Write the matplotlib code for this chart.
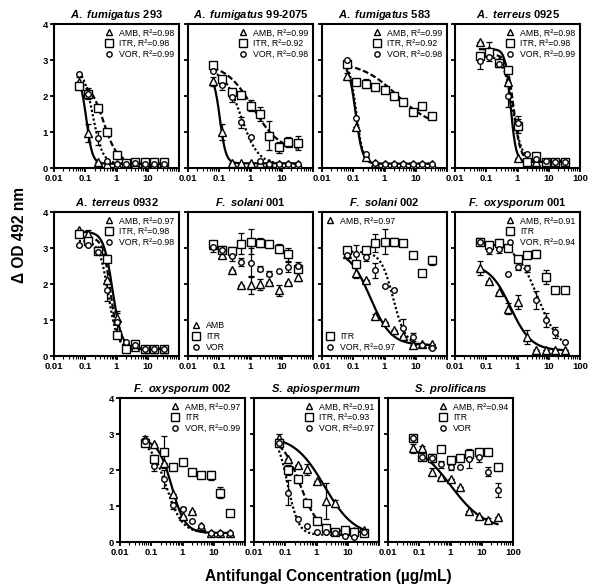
import numpy as np
import matplotlib
matplotlib.use("Agg")
import matplotlib.pyplot as plt
from matplotlib.lines import Line2D

plt.rcParams['font.family'] = ['Liberation Sans', 'DejaVu Sans']
plt.rcParams['mathtext.fontset'] = 'custom'
plt.rcParams['mathtext.it'] = 'Liberation Sans:italic:bold'
plt.rcParams['mathtext.rm'] = 'Liberation Sans:bold'
plt.rcParams['mathtext.bf'] = 'Liberation Sans:bold'

# ---------------- data ----------------
conc = [0.0625, 0.125, 0.25, 0.5, 1, 2, 4, 8, 16, 32]

species = ["A. fumigatus", "A. fumigatus", "A. fumigatus", "A. terreus",
           "A. terreus", "F. solani", "F. solani", "F. oxysporum",
           "F. oxysporum", "S. apiospermum", "S. prolificans"]
strains = ["293", "99-2075", "583", "0925", "0932", "001", "002", "001", "002", "", ""]

amb = [
    [2.40, 0.97, 0.17, 0.12, 0.12, 0.12, 0.12, 0.12, 0.12, 0.12],
    [2.41, 1.00, 0.14, 0.13, 0.13, 0.13, 0.13, 0.12, 0.12, 0.12],
    [2.56, 1.13, 0.30, 0.14, 0.12, 0.12, 0.12, 0.12, 0.12, 0.12],
    [3.49, 3.29, 2.96, 2.40, 0.28, 0.17, 0.17, 0.17, 0.17, 0.17],
    [3.50, 3.40, 2.95, 2.10, 1.05, 0.35, 0.25, 0.20, 0.20, 0.20],
    [3.09, 2.81, 2.40, 1.96, 1.96, 1.99, 2.05, 1.82, 2.05, 2.20],
    [2.84, 2.31, 2.12, 1.10, 0.94, 0.71, 0.55, 0.30, 0.32, 0.34],
    [2.44, 2.08, 1.77, 1.31, 1.50, 0.53, 0.16, 0.16, 0.16, 0.16],
    [2.85, 2.71, 2.20, 1.32, 0.72, 0.86, 0.44, 0.24, 0.24, 0.24],
    [2.88, 2.30, 2.13, 2.02, 1.69, 1.13, 1.07, 0.31, 0.31, 0.33],
    [2.60, 2.60, 1.95, 1.81, 1.75, 1.53, 0.86, 0.73, 0.62, 0.70],
]
amb_err = [
    [0.12, 0.25, 0, 0, 0, 0, 0, 0, 0, 0],
    [0.12, 0.22, 0, 0, 0, 0, 0, 0, 0, 0],
    [0.08, 0, 0, 0, 0, 0, 0, 0, 0, 0],
    [0, 0.2, 0, 0, 0, 0, 0, 0, 0, 0],
    [0, 0.1, 0, 0, 0.15, 0, 0, 0, 0, 0],
    [0.08, 0.1, 0, 0, 0.25, 0.15, 0, 0.15, 0, 0.12],
    [0, 0.15, 0, 0.08, 0, 0, 0, 0, 0, 0],
    [0.2, 0, 0, 0.15, 0.2, 0.2, 0, 0, 0, 0],
    [0.1, 0, 0, 0, 0, 0, 0, 0, 0, 0],
    [0.12, 0, 0, 0.15, 0, 0.5, 0.1, 0, 0, 0],
    [0.12, 0.08, 0.1, 0, 0, 0, 0, 0, 0.05, 0],
]
itr = [
    [2.27, 2.06, 1.67, 1.00, 0.35, 0.15, 0.17, 0.17, 0.16, 0.17],
    [2.87, 2.48, 2.10, 2.04, 1.73, 1.50, 0.90, 0.58, 0.72, 0.70],
    [2.89, 2.40, 2.34, 2.24, 2.18, 2.00, 1.83, 1.55, 1.71, 1.44],
    [3.10, 3.21, 2.92, 2.71, 1.16, 0.17, 0.32, 0.17, 0.17, 0.17],
    [3.40, 3.20, 2.92, 2.70, 0.57, 0.20, 0.32, 0.20, 0.20, 0.20],
    [3.12, 2.95, 2.91, 3.12, 3.17, 3.15, 3.12, 2.98, 2.82, 2.43],
    [2.94, 2.55, 2.94, 3.14, 3.17, 3.17, 3.14, 2.81, 2.31, 2.66],
    [3.17, 3.07, 3.14, 3.00, 2.70, 2.81, 2.84, 2.19, 1.84, 1.84],
    [2.74, 2.31, 2.50, 2.09, 2.22, 1.94, 1.85, 1.85, 1.37, 0.81],
    [2.74, 2.00, 1.74, 1.07, 0.58, 0.40, 0.28, 0.33, 0.28, 0.26],
    [2.88, 2.35, 2.33, 2.59, 2.28, 2.34, 2.44, 2.51, 2.49, 2.07],
]
itr_err = [
    [0, 0.15, 0.05, 0, 0, 0, 0, 0, 0, 0],
    [0, 0.08, 0.1, 0.05, 0.15, 0.2, 0.4, 0.15, 0.15, 0.2],
    [0, 0, 0.12, 0, 0, 0.05, 0, 0, 0, 0],
    [0, 0.1, 0, 0, 0.2, 0, 0, 0, 0, 0],
    [0, 0.1, 0, 0.1, 0, 0, 0, 0, 0, 0],
    [0.05, 0.1, 0.12, 0.3, 0.35, 0.12, 0, 0.12, 0.18, 0.12],
    [0, 0, 0.08, 0.25, 0.35, 0.12, 0, 0, 0, 0.12],
    [0.1, 0, 0.1, 0, 0, 0, 0.1, 0.2, 0, 0],
    [0, 0.1, 0.45, 0, 0, 0, 0.05, 0.12, 0.15, 0],
    [0, 0.15, 0.1, 0, 0, 0, 0, 0.05, 0, 0],
    [0.05, 0, 0.1, 0, 0, 0, 0.15, 0.05, 0, 0],
]
vor = [
    [2.60, 2.05, 0.84, 0.20, 0.12, 0.12, 0.13, 0.12, 0.12, 0.12],
    [2.70, 2.31, 1.98, 1.27, 0.87, 0.20, 0.12, 0.10, 0.10, 0.10],
    [2.99, 1.39, 0.40, 0.14, 0.12, 0.12, 0.12, 0.12, 0.12, 0.12],
    [2.96, 3.08, 2.90, 1.99, 1.25, 0.40, 0.25, 0.20, 0.18, 0.18],
    [3.07, 3.07, 2.90, 1.82, 0.95, 0.40, 0.30, 0.20, 0.20, 0.20],
    [3.03, 2.94, 2.78, 2.61, 2.59, 2.43, 2.29, 2.36, 2.47, 2.50],
    [2.80, 2.84, 2.75, 2.38, 1.94, 1.82, 0.79, 0.53, 0.30, 0.23],
    [3.17, 2.94, 2.96, 2.27, 2.48, 2.44, 1.56, 1.00, 0.66, 0.38],
    [2.80, 2.11, 1.74, 1.02, 0.93, 0.58, 0.44, 0.25, 0.25, 0.25],
    [2.76, 1.37, 0.63, 0.44, 0.28, 0.28, 0.24, 0.17, 0.13, 0.28],
    [2.88, 2.37, 2.33, 2.16, 2.07, 2.07, 2.31, 2.35, 1.95, 1.44],
]
vor_err = [
    [0, 0.1, 0.2, 0, 0, 0, 0, 0, 0, 0],
    [0, 0.15, 0.15, 0.15, 0, 0, 0, 0, 0, 0],
    [0, 0, 0, 0, 0, 0, 0, 0, 0, 0],
    [0.2, 0.1, 0.1, 0.3, 0.2, 0, 0, 0, 0, 0],
    [0, 0, 0, 0.3, 0.3, 0, 0, 0, 0, 0],
    [0.15, 0, 0.15, 0.1, 0.4, 0.08, 0.08, 0, 0.15, 0.1],
    [0, 0.25, 0.1, 0.2, 0, 0, 0.25, 0.12, 0, 0],
    [0, 0.1, 0.1, 0, 0.1, 0.1, 0.25, 0.2, 0.15, 0],
    [0.1, 0.15, 0.25, 0.1, 0.05, 0, 0, 0, 0, 0],
    [0, 0.35, 0, 0, 0, 0, 0, 0, 0, 0],
    [0, 0, 0.12, 0.1, 0.08, 0, 0.25, 0.12, 0.12, 0.2],
]

# 4-parameter logistic fit parameters (top, bottom, EC50, hill); None = not fitted
amb_fit = [(2.6, 0.12, 0.108, 4.45), (2.6, 0.13, 0.105, 4.5), (2.9, 0.12, 0.12, 4.0),
           (3.3, 0.17, 0.6, 5.0), (3.45, 0.2, 0.75, 3.0), None,
           (2.95, 0.3, 0.35, 1.3), (2.55, 0.15, 0.6, 1.3), (2.85, 0.25, 0.45, 2.0),
           (2.95, 0.15, 1.8, 0.9), (2.8, 0.35, 1.0, 0.8)]
itr_fit = [(2.4, 0.15, 0.388, 2.0), (2.9, 0.45, 1.2, 1.0), (2.95, 1.1, 2.5, 0.75),
           (3.15, 0.2, 0.75, 4.0), (3.3, 0.2, 0.65, 3.5), None,
           None, None, None,
           (2.9, 0.28, 0.3, 1.5), None]
vor_fit = [(2.8, 0.12, 0.175, 2.8), (2.75, 0.1, 0.5, 1.6), (2.95, 0.12, 0.125, 4.0),
           (3.1, 0.2, 0.7, 3.0), (3.2, 0.2, 0.55, 3.0), None,
           (2.9, 0.3, 1.9, 2.2), (3.15, 0.1, 4.5, 1.2), (2.85, 0.25, 0.3, 1.7),
           (3.0, 0.2, 0.12, 2.5), None]

legend_labels = [
    ["AMB, R²=0.98", "ITR, R²=0.98", "VOR, R²=0.99"],
    ["AMB, R²=0.99", "ITR, R²=0.92", "VOR, R²=0.98"],
    ["AMB, R²=0.99", "ITR, R²=0.92", "VOR, R²=0.98"],
    ["AMB, R²=0.98", "ITR, R²=0.98", "VOR, R²=0.99"],
    ["AMB, R²=0.97", "ITR, R²=0.98", "VOR, R²=0.98"],
    ["AMB", "ITR", "VOR"],
    ["AMB, R²=0.97", "ITR", "VOR, R²=0.97"],
    ["AMB, R²=0.91", "ITR", "VOR, R²=0.94"],
    ["AMB, R²=0.97", "ITR", "VOR, R²=0.99"],
    ["AMB, R²=0.91", "ITR, R²=0.93", "VOR, R²=0.97"],
    ["AMB, R²=0.94", "ITR", "VOR"],
]

# ---------------- layout ----------------
W, H = 592, 587
fig = plt.figure(figsize=(W / 100, H / 100), dpi=100)

pw, ph = 125, 144
rows_top = [24, 212, 398]
cols = [[54, 188, 322, 455], [54, 188, 322, 455], [120, 254, 388]]

positions = []
for r, lefts in enumerate(cols):
    for c, l in enumerate(lefts):
        positions.append((r, c, l, rows_top[r], c == 0, c == len(lefts) - 1))

markers = {'AMB': '^', 'ITR': 's', 'VOR': 'o'}
msizes = {'AMB': 5.2, 'ITR': 5.4, 'VOR': 4.0}
lstyles = {'AMB': '-', 'ITR': (0, (2.6, 1.2)), 'VOR': (0, (1.0, 1.0))}


def logistic(x, p):
    top, bot, ec50, h = p
    return bot + (top - bot) / (1.0 + (x / ec50) ** h)


xs = np.logspace(np.log10(conc[0]), np.log10(conc[-1]), 300)

for i, (r, c, l, t, first, last) in enumerate(positions):
    ax = fig.add_axes([l / W, 1 - (t + ph) / H, pw / W, ph / H])
    ax.set_xscale('log')
    ax.set_xlim(0.01, 100)
    ax.set_ylim(0, 4)

    series = [('AMB', amb[i], amb_err[i], amb_fit[i]),
              ('ITR', itr[i], itr_err[i], itr_fit[i]),
              ('VOR', vor[i], vor_err[i], vor_fit[i])]
    for name, ys, es, fit in series:
        if fit is not None:
            ax.plot(xs, logistic(xs, fit), color='black', lw=1.6,
                    ls=lstyles[name], zorder=2, dash_capstyle='butt')
    for name, ys, es, fit in series:
        ax.errorbar(conc, ys, yerr=es, fmt='none', ecolor='black',
                    elinewidth=0.9, capsize=2.2, capthick=0.9, zorder=3)
        ax.plot(conc, ys, ls='none', marker=markers[name], ms=msizes[name],
                mfc='white', mec='black', mew=1.0, zorder=4)

    # ticks
    ax.set_yticks([0, 1, 2, 3, 4])
    ax.set_xticks([0.01, 0.1, 1, 10, 100])
    ax.set_xticklabels(['0.01', '0.1', '1', '10', '100' if last else ''])
    ax.tick_params(axis='both', which='major', direction='out', length=3,
                   width=1.3, labelsize=6.8, pad=1.5)
    ax.tick_params(axis='x', which='minor', direction='out', length=1.8, width=0.8)
    for lab in ax.get_xticklabels() + ax.get_yticklabels():
        lab.set_fontweight('bold')
    if not first:
        ax.set_yticklabels([])
    for sp in ax.spines.values():
        sp.set_linewidth(1.5)

    # title
    title = r"$\mathit{" + species[i].replace(' ', r'\ ') + "}$"
    if strains[i]:
        title += " " + strains[i]
    ax.set_title(title, fontsize=8, fontweight='bold', pad=4)

    # legends
    labs = legend_labels[i]
    handles = [Line2D([], [], ls='none', marker=markers[n], ms=msizes[n] * 0.95,
                      mfc='white', mec='black', mew=1.0) for n in ['AMB', 'ITR', 'VOR']]
    kw = dict(frameon=False, fontsize=6.3, handlelength=0.9, handletextpad=0.7,
              labelspacing=0.22, borderpad=0.2, borderaxespad=0.3)
    if i == 5:
        ax.legend(handles, labs, loc='lower left', **kw)
    elif i == 6:
        leg1 = ax.legend(handles[:1], labs[:1], loc='upper left', **kw)
        ax.add_artist(leg1)
        ax.legend(handles[1:], labs[1:], loc='lower left', **kw)
    else:
        ax.legend(handles, labs, loc='upper right', **kw)

fig.text(20 / W, 1 - 235 / H, "Δ OD 492 nm", rotation=90, ha='center', va='center',
         fontsize=11.2, fontweight='bold')
fig.text(328 / W, 1 - 577 / H, "Antifungal Concentration (µg/mL)", ha='center',
         va='center', fontsize=11.2, fontweight='bold')

fig.savefig('out.png', dpi=100)
